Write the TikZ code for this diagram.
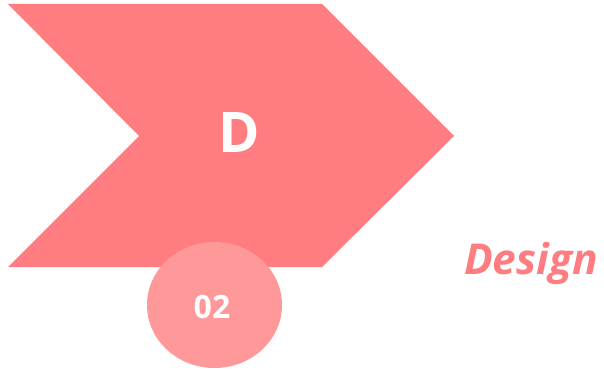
\documentclass[tikz,border=0pt]{standalone}
\usepackage{fontspec}
\setmainfont{Open Sans}
\definecolor{chev}{RGB}{255,124,128}
\definecolor{circ}{RGB}{255,153,153}
\begin{document}
\begin{tikzpicture}[x=1pt,y=-1pt,
  lbl/.style={text=white,font=\bfseries,inner sep=0pt}]
\useasboundingbox (0,0) rectangle (604,369);
\fill[chev] (8,4) -- (322,4) -- (454,136) -- (322,267) -- (8,267) -- (139,136) -- cycle;
\fill[circ] (214.5,305) ellipse [x radius=67.5, y radius=63];
\node[lbl,font=\bfseries\fontsize{56}{60}\selectfont] (d) at (239,133) {D};
\node[lbl,font=\bfseries\fontsize{32}{36}\selectfont] (num) at (212,307.5) {02};
\node[inner sep=0pt,anchor=base west,text=chev,font=\bfseries\itshape\fontsize{42.5}{46}\selectfont] (design) at (464,274) {Design};
\end{tikzpicture}
\end{document}
